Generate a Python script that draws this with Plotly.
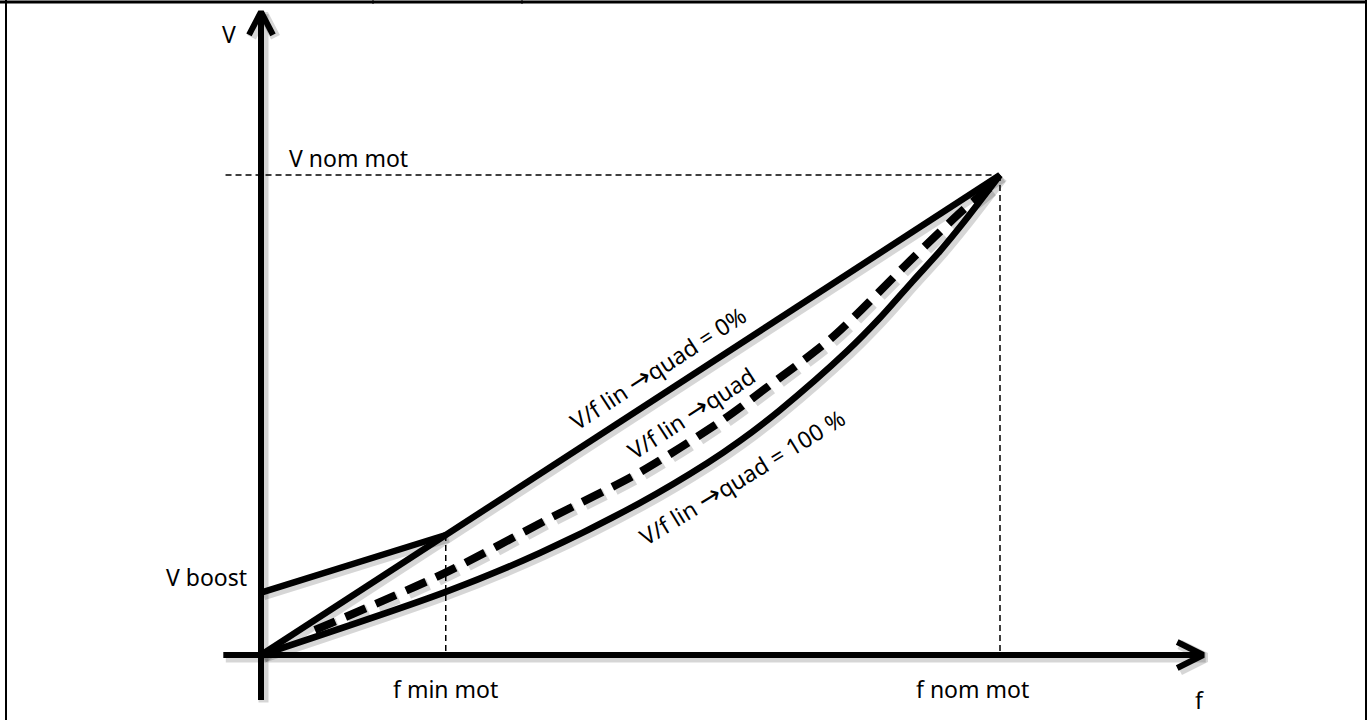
import plotly.graph_objects as go

# ---- data (f and V in % of nominal values) ----
F_NOM = 100.0
V_NOM = 100.0
F_MIN = 25.0
V_BOOST = 13.0

# V/f linear (lin->quad = 0 %)
lin_f = [0.0, F_MIN, F_NOM]
lin_v = [0.0, 25.0, V_NOM]

# boost segment
boost_f = [0.0, F_MIN]
boost_v = [V_BOOST, 25.0]

# V/f lin->quad = 100 %
quad_f = [0.0, 24.9, 37.8, 51.3, 60.4, 64.8, 70.2, 79.3, 83.8, 88.2, 91.9, 95.0, 100.0]
quad_v = [0.0, 13.1, 21.3, 31.7, 40.0, 44.6, 51.0, 63.3, 70.3, 77.9, 84.2, 90.0, 100.0]

# V/f lin->quad (intermediate, dashed)
mid_f = [7.3, 24.9, 39.1, 51.3, 62.5, 68.5, 77.4, 88.2, 95.0, 98.6]
mid_v = [5.2, 17.1, 28.5, 38.1, 49.0, 55.8, 66.3, 82.7, 92.7, 97.3]

# axis extents
f_axis = [-5.1, 127.5]
v_axis = [-9.4, 134.0]

# ---- scales ----
W, H = 1367, 720
X0_PX, Y0_PX = 261.0, 655.0      # pixel position of origin
KX, KY = 7.39, 4.8               # px per unit
x_range = [-X0_PX / KX, (W - X0_PX) / KX]
y_range = [-(H - Y0_PX) / KY, Y0_PX / KY]

def px_x(p):
    return p / KX

def px_y(p):
    return p / KY

FONT = dict(family="Noto Sans, Open Sans, sans-serif", size=23, color="black")
SHADOW = "rgba(0,0,0,0.16)"
ARROW = "<span style=\"font-family:'DejaVu Sans';font-size:27px\">→</span>"

fig = go.Figure()

def line(xs, ys, width=6, dash="solid", color="black", shadow=True, shape="linear"):
    if shadow:
        fig.add_trace(go.Scatter(
            x=[v + px_x(2.5) for v in xs], y=[v - px_y(2.5) for v in ys],
            mode="lines", line=dict(color=SHADOW, width=width + 4, dash=dash,
                                    shape=shape, smoothing=0.8),
            hoverinfo="skip", showlegend=False))
    fig.add_trace(go.Scatter(
        x=xs, y=ys, mode="lines",
        line=dict(color=color, width=width, dash=dash, shape=shape, smoothing=0.8),
        hoverinfo="skip", showlegend=False))

# thin dashed guides
guide = dict(color="black", width=1.5, dash="6px,4px")
fig.add_trace(go.Scatter(x=[f_axis[0] + 0.3, F_NOM], y=[V_NOM, V_NOM], mode="lines",
                         line=guide, hoverinfo="skip", showlegend=False))
fig.add_trace(go.Scatter(x=[F_NOM, F_NOM], y=[V_NOM, 0], mode="lines",
                         line=guide, hoverinfo="skip", showlegend=False))
fig.add_trace(go.Scatter(x=[F_MIN, F_MIN], y=[lin_v[1], 0], mode="lines",
                         line=guide, hoverinfo="skip", showlegend=False))

# curves
line(quad_f, quad_v, width=6.5, shape="spline")
line(mid_f, mid_v, width=8, dash="22px,11px", shape="spline")
line(lin_f, lin_v, width=6.5)
line(boost_f, boost_v, width=6.5)

# axes
line([0, 0], v_axis, width=6)
line(f_axis, [0, 0], width=6)
# arrow heads
line([-px_x(12), 0, px_x(12)], [v_axis[1] - px_y(23), v_axis[1], v_axis[1] - px_y(23)], width=6)
line([f_axis[1] - px_x(26), f_axis[1], f_axis[1] - px_x(26)], [px_y(13), 0, -px_y(13)], width=6)

ann = []
def label(text, x, y, xanchor="center", angle=0):
    ann.append(dict(text=text, x=x, y=y, xref="x", yref="y", showarrow=False,
                    xanchor=xanchor, yanchor="middle", textangle=angle, font=FONT))

label("V", px_x(229 - X0_PX), px_y(Y0_PX - 34))
label("V nom mot", px_x(287 - X0_PX), px_y(Y0_PX - 158), xanchor="left")
label("V boost", px_x(249 - X0_PX), px_y(Y0_PX - 577), xanchor="right")
label("f min mot", F_MIN, px_y(Y0_PX - 689))
label("f nom mot", px_x(972 - X0_PX), px_y(Y0_PX - 689))
label("f", px_x(1199 - X0_PX), px_y(Y0_PX - 700))
label("V/f lin " + ARROW + "quad = 0%", 53.7, 59.8, angle=-33)
label("V/f lin " + ARROW + "quad", 58.2, 50.4, angle=-33)
label("V/f lin " + ARROW + "quad = 100 %", 65.1, 37.1, angle=-31.5)

shapes = [
    dict(type="line", xref="paper", yref="paper", x0=6 / W, x1=6 / W, y0=0, y1=1,
         line=dict(color="black", width=2)),
    dict(type="line", xref="paper", yref="paper", x0=1366 / W, x1=1366 / W, y0=0, y1=1,
         line=dict(color="black", width=2)),
    dict(type="line", xref="paper", yref="paper", x0=0, x1=1, y0=1 - 2 / H, y1=1 - 2 / H,
         line=dict(color="black", width=3)),
    dict(type="line", xref="paper", yref="paper", x0=373 / W, x1=373 / W, y0=1 - 4 / H, y1=1,
         line=dict(color="black", width=1)),
    dict(type="line", xref="paper", yref="paper", x0=522 / W, x1=522 / W, y0=1 - 4 / H, y1=1,
         line=dict(color="black", width=1)),
]

fig.update_layout(
    width=W, height=H,
    margin=dict(l=0, r=0, t=0, b=0),
    paper_bgcolor="white", plot_bgcolor="white",
    xaxis=dict(range=x_range, visible=False, fixedrange=True),
    yaxis=dict(range=y_range, visible=False, fixedrange=True),
    annotations=ann, shapes=shapes, showlegend=False,
)

fig.write_html("out.html", config={"displayModeBar": False},
               post_script="document.body.style.margin='0';")
